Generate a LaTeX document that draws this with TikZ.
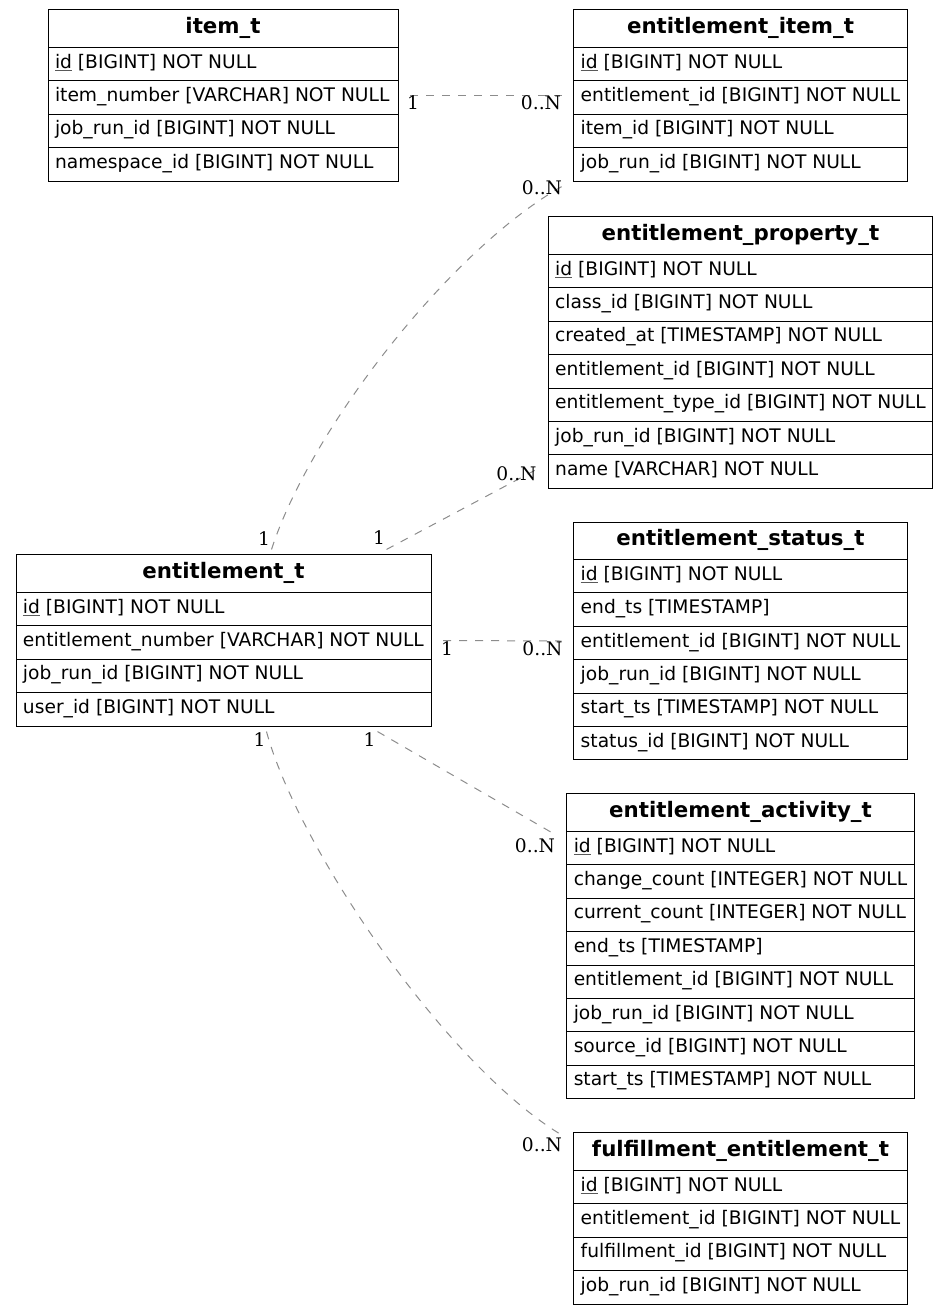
\documentclass[tikz,border=0pt]{standalone}
\usepackage{fontspec}
\usepackage{tikz}
\usetikzlibrary{shapes.multipart}
\newfontfamily\tabfont{DejaVu Sans}
\newfontfamily\cardfont{DejaVu Serif}
\newcommand\hd[1]{\rule[-13.5pt]{0pt}{36.5pt}{\fontsize{21.33}{24}\selectfont\textbf{#1}}}
\newcommand\rw[1]{\rule[-12.2pt]{0pt}{32.4pt}#1}
\newcommand\pk[1]{\setbox0\hbox{#1}\rlap{\color{black!65}\rule[-2.7pt]{\wd0}{0.8pt}}\box0\relax}

\begin{document}
\begin{tikzpicture}[x=1pt, y=-1pt,
    tbl/.style={draw, line width=1pt, rectangle split, rectangle split parts=#1,
        rectangle split part align={center,left}, inner xsep=7pt, inner ysep=0pt,
        outer xsep=12pt, outer ysep=5.5pt, font=\tabfont\fontsize{18.67}{22}\selectfont},
    card/.style={inner sep=0pt, font=\cardfont\fontsize{18.67}{22}\selectfont},
    rel/.style={draw=black!45, line width=1pt, dash pattern=on 8pt off 8pt}
]
\useasboundingbox (0,0) rectangle (948,1315);

\node[tbl=5, minimum width=350pt] (item) at (223,95.5) {\hd{item\_t}
    \nodepart{two}\rw{\pk{id} [BIGINT] NOT NULL}
    \nodepart{three}\rw{item\_number [VARCHAR] NOT NULL}
    \nodepart{four}\rw{job\_run\_id [BIGINT] NOT NULL}
    \nodepart{five}\rw{namespace\_id [BIGINT] NOT NULL}};
\node[tbl=5, minimum width=333pt] (eitem) at (740.5,95.5) {\hd{entitlement\_item\_t}
    \nodepart{two}\rw{\pk{id} [BIGINT] NOT NULL}
    \nodepart{three}\rw{entitlement\_id [BIGINT] NOT NULL}
    \nodepart{four}\rw{item\_id [BIGINT] NOT NULL}
    \nodepart{five}\rw{job\_run\_id [BIGINT] NOT NULL}};
\node[tbl=8, minimum width=383pt] (eprop) at (740.5,352.6) {\hd{entitlement\_property\_t}
    \nodepart{two}\rw{\pk{id} [BIGINT] NOT NULL}
    \nodepart{three}\rw{class\_id [BIGINT] NOT NULL}
    \nodepart{four}\rw{created\_at [TIMESTAMP] NOT NULL}
    \nodepart{five}\rw{entitlement\_id [BIGINT] NOT NULL}
    \nodepart{six}\rw{entitlement\_type\_id [BIGINT] NOT NULL}
    \nodepart{seven}\rw{job\_run\_id [BIGINT] NOT NULL}
    \nodepart{eight}\rw{name [VARCHAR] NOT NULL}};
\node[tbl=7, minimum width=333pt] (estat) at (740.5,641) {\hd{entitlement\_status\_t}
    \nodepart{two}\rw{\pk{id} [BIGINT] NOT NULL}
    \nodepart{three}\rw{end\_ts [TIMESTAMP]}
    \nodepart{four}\rw{entitlement\_id [BIGINT] NOT NULL}
    \nodepart{five}\rw{job\_run\_id [BIGINT] NOT NULL}
    \nodepart{six}\rw{start\_ts [TIMESTAMP] NOT NULL}
    \nodepart{seven}\rw{status\_id [BIGINT] NOT NULL}};
\node[tbl=5, minimum width=415pt] (ent) at (223.5,640.5) {\hd{entitlement\_t}
    \nodepart{two}\rw{\pk{id} [BIGINT] NOT NULL}
    \nodepart{three}\rw{entitlement\_number [VARCHAR] NOT NULL}
    \nodepart{four}\rw{job\_run\_id [BIGINT] NOT NULL}
    \nodepart{five}\rw{user\_id [BIGINT] NOT NULL}};
\node[tbl=9, minimum width=347pt] (eact) at (740.5,946.3) {\hd{entitlement\_activity\_t}
    \nodepart{two}\rw{\pk{id} [BIGINT] NOT NULL}
    \nodepart{three}\rw{change\_count [INTEGER] NOT NULL}
    \nodepart{four}\rw{current\_count [INTEGER] NOT NULL}
    \nodepart{five}\rw{end\_ts [TIMESTAMP]}
    \nodepart{six}\rw{entitlement\_id [BIGINT] NOT NULL}
    \nodepart{seven}\rw{job\_run\_id [BIGINT] NOT NULL}
    \nodepart{eight}\rw{source\_id [BIGINT] NOT NULL}
    \nodepart{nine}\rw{start\_ts [TIMESTAMP] NOT NULL}};
\node[tbl=5, minimum width=333pt] (eful) at (740.5,1218.5) {\hd{fulfillment\_entitlement\_t}
    \nodepart{two}\rw{\pk{id} [BIGINT] NOT NULL}
    \nodepart{three}\rw{entitlement\_id [BIGINT] NOT NULL}
    \nodepart{four}\rw{fulfillment\_id [BIGINT] NOT NULL}
    \nodepart{five}\rw{job\_run\_id [BIGINT] NOT NULL}};

\draw[rel] (item.east) -- (eitem.west);
\draw[rel] ([xshift=48pt]ent.north) .. controls (310,430) and (450,250) .. (eitem.south west);
\draw[rel] ([xshift=163pt]ent.north) -- ([yshift=-117pt]eprop.west);
\draw[rel] (ent.east) -- (estat.west);
\draw[rel] ([xshift=154pt]ent.south) -- ([yshift=112pt]eact.west);
\draw[rel] ([xshift=43pt]ent.south) .. controls (297,845) and (445,1065) .. ([yshift=83.5pt]eful.west);

\node[card] (c1t) at (413,103) {1};
\node[card] (c1h) at (541,103) {0..N};
\node[card] (c2t) at (264,538.5) {1};
\node[card] (c2h) at (542,188) {0..N};
\node[card] (c3t) at (379,538) {1};
\node[card] (c3h) at (516.5,473.5) {0..N};
\node[card] (c4t) at (447,649) {1};
\node[card] (c4h) at (542.5,649) {0..N};
\node[card] (c5t) at (369.5,740) {1};
\node[card] (c5h) at (535,846) {0..N};
\node[card] (c6t) at (259.5,740) {1};
\node[card] (c6h) at (542,1145) {0..N};
\end{tikzpicture}
\end{document}
